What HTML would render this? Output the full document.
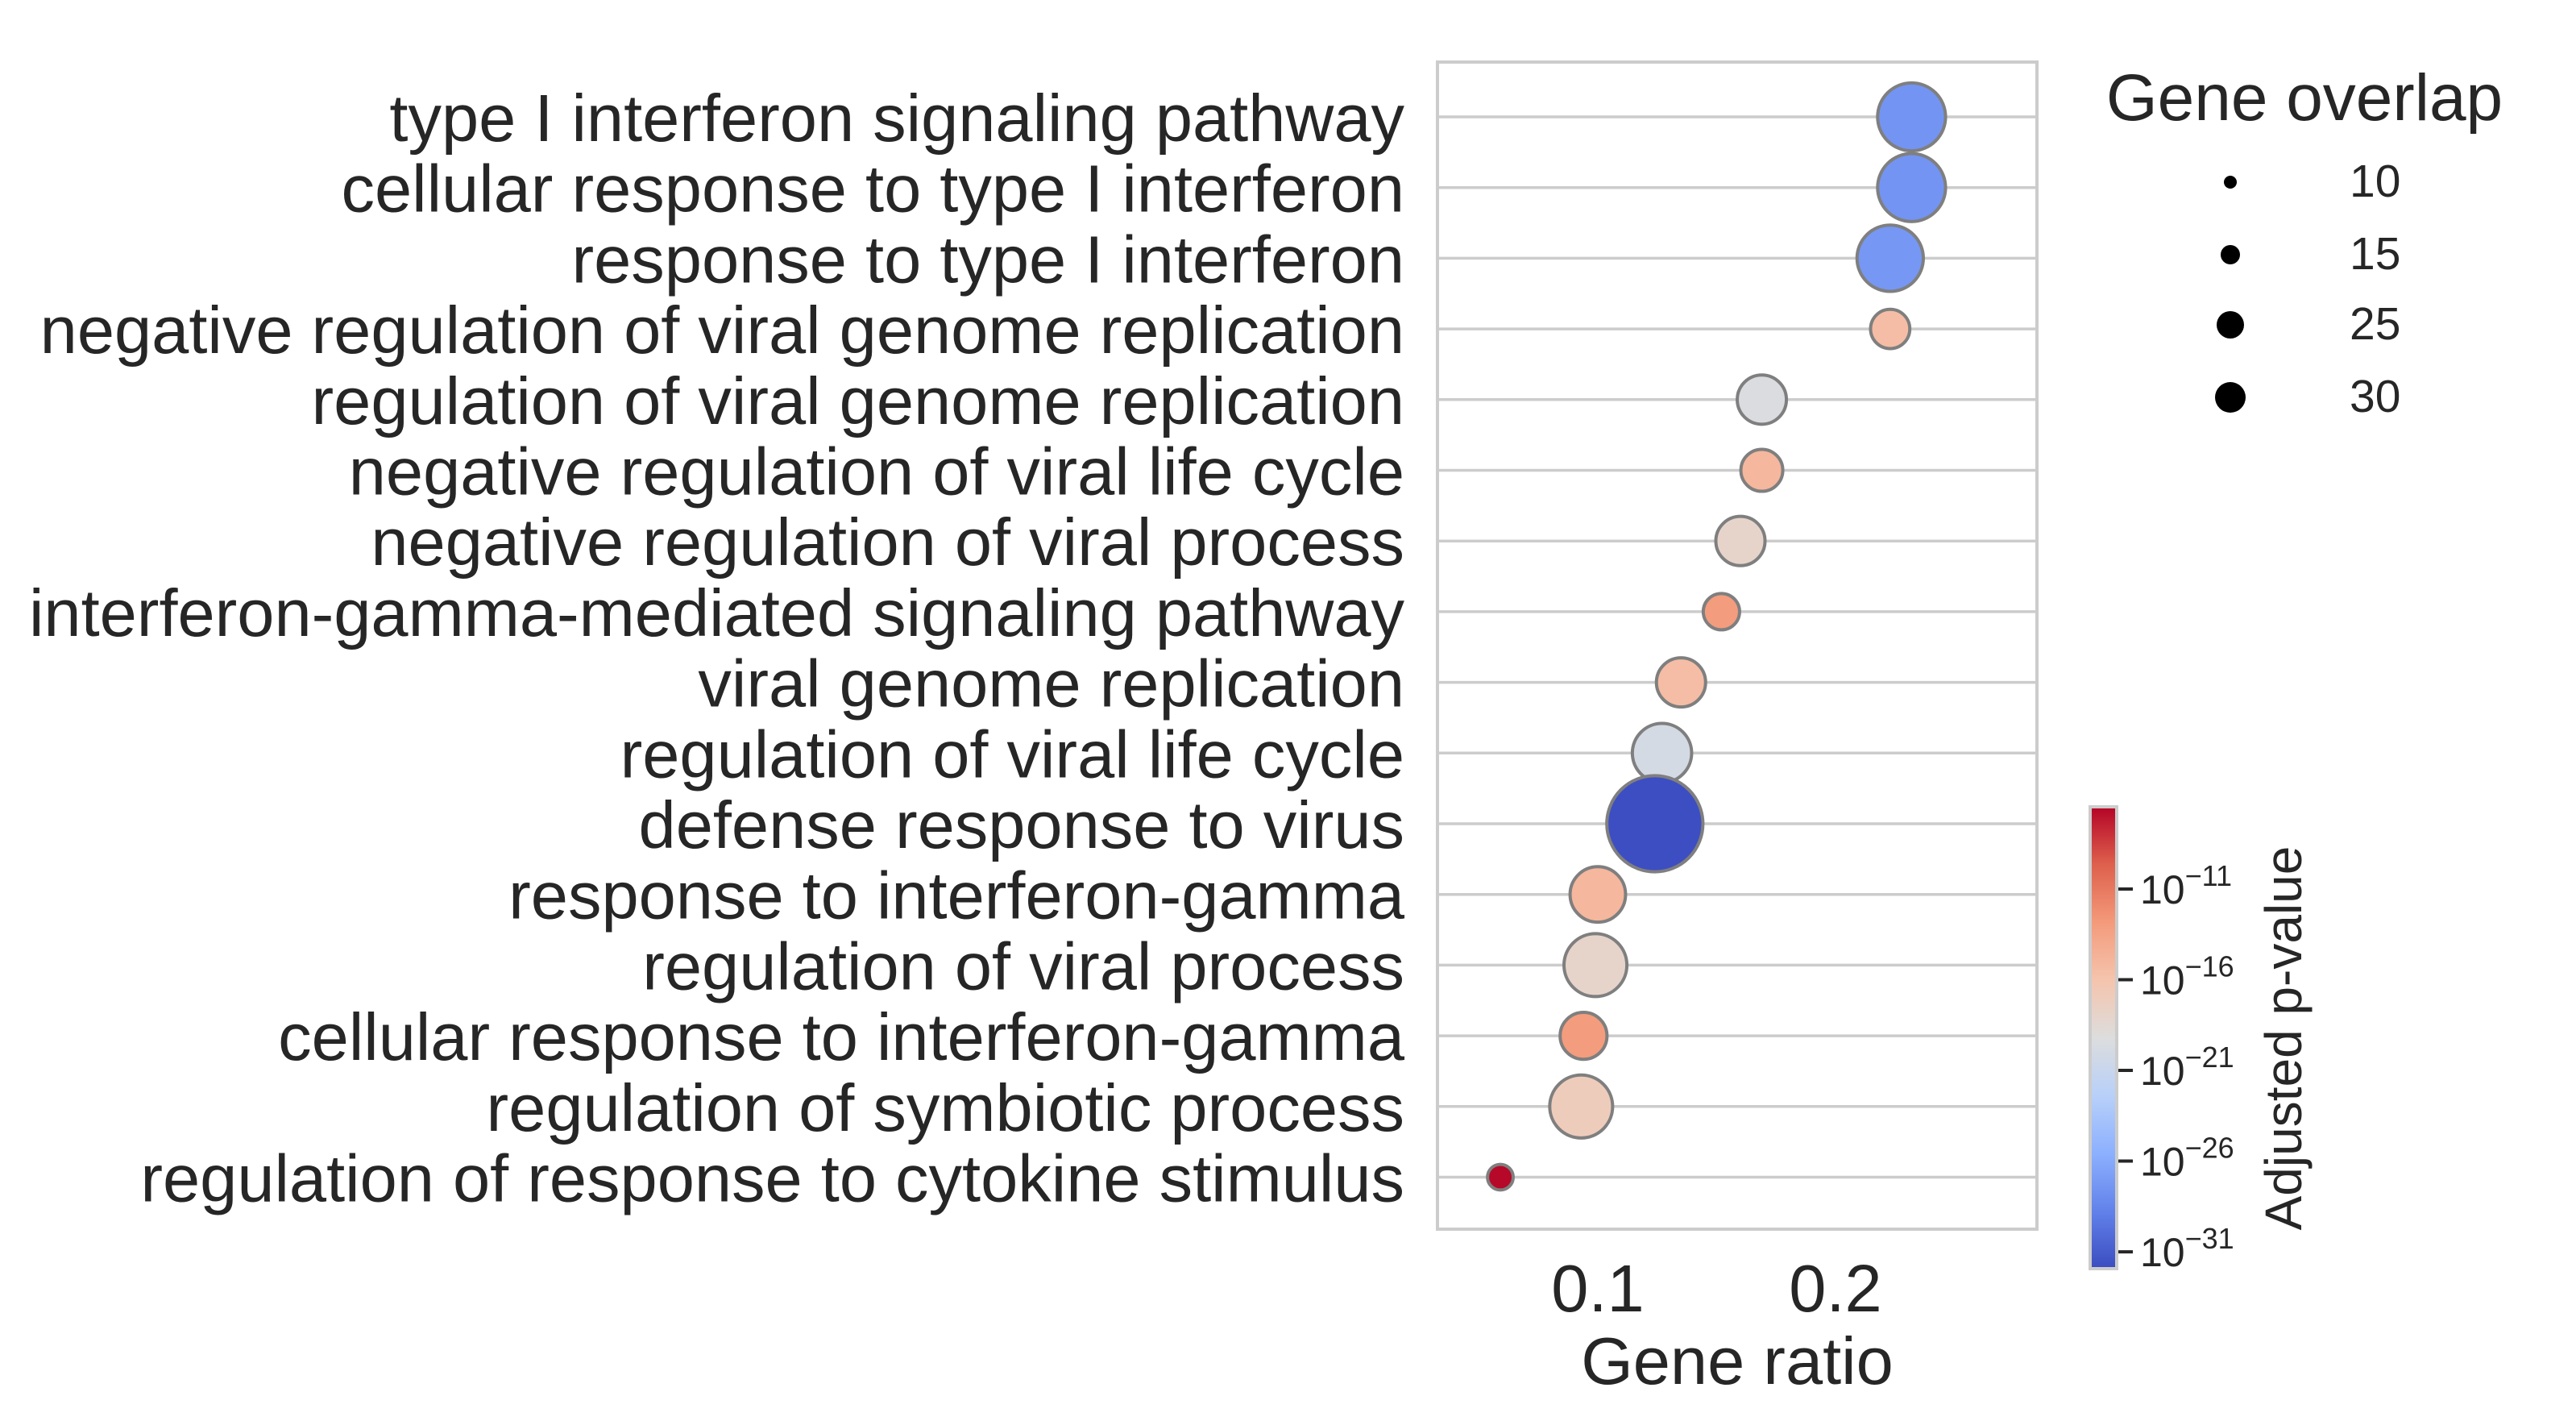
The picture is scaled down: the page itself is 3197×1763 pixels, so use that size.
<!DOCTYPE html>
<html><head><meta charset="utf-8"><style>
html,body{margin:0;padding:0;background:#fff;}
svg{display:block;font-family:"Liberation Sans",Arial,sans-serif;}
</style></head><body>
<svg id="chart" width="3197" height="1763" viewBox="0 0 3197 1763" xmlns="http://www.w3.org/2000/svg">
<defs>
<linearGradient id="cbgrad" x1="0" y1="1" x2="0" y2="0">
<stop offset="0" stop-color="#3b4cc0"/><stop offset="0.125" stop-color="#6282ea"/><stop offset="0.25" stop-color="#8db0fe"/><stop offset="0.375" stop-color="#b8d0f9"/><stop offset="0.5" stop-color="#dddddd"/><stop offset="0.625" stop-color="#f5c4ad"/><stop offset="0.75" stop-color="#f49a7b"/><stop offset="0.875" stop-color="#de604d"/><stop offset="1" stop-color="#b40426"/>
</linearGradient>
</defs>
<g id="plot"></g>
<g id="legend">
<text x="2860" y="149" font-size="82" fill="#262626" text-anchor="middle">Gene overlap</text>
</g>
<g id="cbar">
<rect x="2594" y="1001" width="33" height="573" fill="url(#cbgrad)" stroke="#cccccc" stroke-width="4"/>
<text transform="translate(2856,1288) rotate(-90)" font-size="64" fill="#262626" text-anchor="middle">Adjusted p-value</text>
</g>
</svg>
<script>
const categories = ["type I interferon signaling pathway","cellular response to type I interferon","response to type I interferon","negative regulation of viral genome replication","regulation of viral genome replication","negative regulation of viral life cycle","negative regulation of viral process","interferon-gamma-mediated signaling pathway","viral genome replication","regulation of viral life cycle","defense response to virus","response to interferon-gamma","regulation of viral process","cellular response to interferon-gamma","regulation of symbiotic process","regulation of response to cytokine stimulus"];
const geneRatio = [0.232,0.232,0.223,0.223,0.169,0.169,0.160,0.152,0.135,0.127,0.124,0.100,0.099,0.094,0.093,0.059];
const geneOverlap = [21,21,20,7,11,8,11,6,11,16,42,14,18,10,18,3];
const log10p = [-27.5,-27.5,-27.3,-15.5,-19.5,-15,-18,-13,-15.5,-20,-31.8,-15,-18,-13,-17,-6.6];
const xTicks = [0.1,0.2];
const cbTicks = [-11,-16,-21,-26,-31];
const legendValues = [10,15,25,30];

const NS="http://www.w3.org/2000/svg";
const svg=document.getElementById('chart');
const plot=document.getElementById('plot');
const L=1784,R=2528,T=77,B=1525;
const x=v=>1688+v*2950;
const y=i=>145+i*87.7;
const rad=n=>9.2*Math.sqrt(n);
const vmin=-31.93,vmax=-6.47;
const cbY=v=>1574-(v-vmin)/(vmax-vmin)*573;
const stops=[[59,76,192],[98,130,234],[141,176,254],[184,208,249],[221,221,221],[245,196,173],[244,154,123],[222,96,77],[180,4,38]];
function cmap(v){let t=Math.max(0,Math.min(1,(v-vmin)/(vmax-vmin)))*8;let i=Math.min(7,Math.floor(t));let f=t-i;const a=stops[i],b=stops[i+1];return 'rgb('+a.map((c,k)=>Math.round(c+(b[k]-c)*f)).join(',')+')';}
function mk(tag,attrs,parent){const e=document.createElementNS(NS,tag);for(const k in attrs)e.setAttribute(k,attrs[k]);(parent||svg).appendChild(e);return e;}

const frame=mk('rect',{x:L,y:T,width:R-L,height:B-T,fill:'none',stroke:'#cccccc','stroke-width':4},plot);


categories.forEach((c,i)=>{
  const g=mk('line',{x1:L,x2:R,y1:y(i),y2:y(i),stroke:'#cccccc','stroke-width':3.5},plot);
  
  
  const t=mk('text',{x:1743,y:y(i)+30,'font-size':83,fill:'#262626','text-anchor':'end'},plot);
  t.textContent=c;
  
  
});
categories.forEach((c,i)=>{
  const p=mk('circle',{cx:x(geneRatio[i]),cy:y(i),r:rad(geneOverlap[i]),fill:cmap(log10p[i]),stroke:'#7f7f7f','stroke-width':4},plot);
  
  
});
xTicks.forEach(v=>{
  const t=mk('text',{x:x(v),y:1627,'font-size':83,fill:'#262626','text-anchor':'middle'},plot);
  t.textContent=v.toFixed(1);
  
  
});
const xt=mk('text',{x:2156,y:1717,'font-size':83,fill:'#262626','text-anchor':'middle'},plot);
xt.textContent='Gene ratio';



const leg=document.getElementById('legend');
const legY=[226,316,403,493], legR=[8,12,17,19];
legendValues.forEach((v,i)=>{
  const c=mk('circle',{cx:2768,cy:legY[i],r:legR[i],fill:'#000'},leg);
  
  
  const t=mk('text',{x:2916,y:legY[i]+18,'font-size':57,fill:'#262626'},leg);
  t.textContent=v;
  
  
});
const cb=document.getElementById('cbar');
cbTicks.forEach(v=>{
  const yy=cbY(v);
  const l=mk('line',{x1:2629,x2:2647,y1:yy,y2:yy,stroke:'#262626','stroke-width':4},cb);
  
  
  const t=mk('text',{x:2656,y:yy+18,'font-size':50,fill:'#262626'},cb);
  
  
  const s1=document.createElementNS(NS,'tspan');s1.textContent='10';t.appendChild(s1);
  const s2=document.createElementNS(NS,'tspan');s2.setAttribute('dy','-22');s2.setAttribute('font-size','36');s2.textContent='\u2212'+(-v);t.appendChild(s2);
});
</script>
</body></html>
